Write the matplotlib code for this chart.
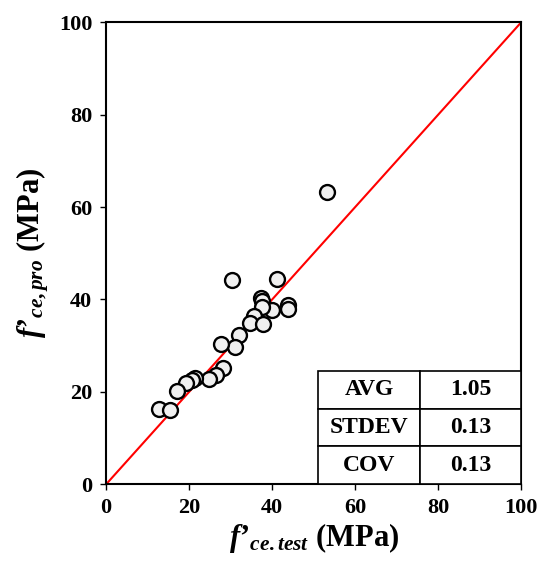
import matplotlib
matplotlib.use("Agg")
import matplotlib.pyplot as plt

plt.rcParams['font.family'] = ['Liberation Serif', 'DejaVu Serif']
plt.rcParams['font.weight'] = 'bold'
plt.rcParams['mathtext.fontset'] = 'custom'
plt.rcParams['mathtext.it'] = 'Liberation Serif:italic:bold'
plt.rcParams['mathtext.rm'] = 'Liberation Serif:bold'
plt.rcParams['mathtext.bf'] = 'Liberation Serif:bold'

# test vs predicted strength (MPa)
f_test = [53.2, 30.4, 41.1, 37.3, 37.5, 43.9, 43.9, 39.9, 37.5, 35.7, 34.7, 37.8,
          32.0, 31.0, 27.7, 28.1, 26.5, 24.7, 21.4, 20.6, 19.3, 17.0, 12.8, 15.4]
f_pro = [63.3, 44.3, 44.4, 40.4, 39.7, 38.7, 38.0, 37.8, 38.4, 36.4, 34.9, 34.6,
         32.2, 29.6, 30.3, 25.1, 23.6, 22.7, 23.0, 22.5, 22.0, 20.1, 16.3, 16.0]

stat_names = ['AVG', 'STDEV', 'COV']
stat_values = ['1.05', '0.13', '0.13']

fig = plt.figure(figsize=(5.39, 5.71), dpi=100)
ax = fig.add_axes([0.197, 0.152, 0.770, 0.809])

ax.plot([0, 100], [0, 100], color='red', lw=1.5, zorder=2)
ax.scatter(f_test, f_pro, s=115, facecolor='#f0f0f0', edgecolor='black',
           linewidths=1.7, zorder=3)

ax.set_xlim(0, 100)
ax.set_ylim(0, 100)
ax.set_xticks(range(0, 101, 20))
ax.set_yticks(range(0, 101, 20))
ax.tick_params(direction='out', length=4, width=1, labelsize=16, pad=6)
for lab in ax.get_xticklabels() + ax.get_yticklabels():
    lab.set_fontweight('bold')
for sp in ax.spines.values():
    sp.set_linewidth(1.5)

ax.set_xlabel("$f\u2019_{ce.test}\\ $(MPa)", fontsize=22, fontweight='bold', labelpad=2)
ax.set_ylabel("$f\u2019_{ce,pro}\\ $(MPa)", fontsize=22, fontweight='bold', labelpad=6)

rows = [[n, v] for n, v in zip(stat_names, stat_values)]
tbl = ax.table(cellText=rows, cellLoc='center', bbox=[0.511, 0.0, 0.489, 0.245])
tbl.auto_set_font_size(False)
tbl.set_fontsize(17)
for (r, c), cell in tbl.get_celld().items():
    cell.set_linewidth(1.2)
    cell.set_edgecolor('black')
    cell.get_text().set_fontweight('bold')
tbl.set_zorder(4)

fig.savefig("out.png", dpi=100)
